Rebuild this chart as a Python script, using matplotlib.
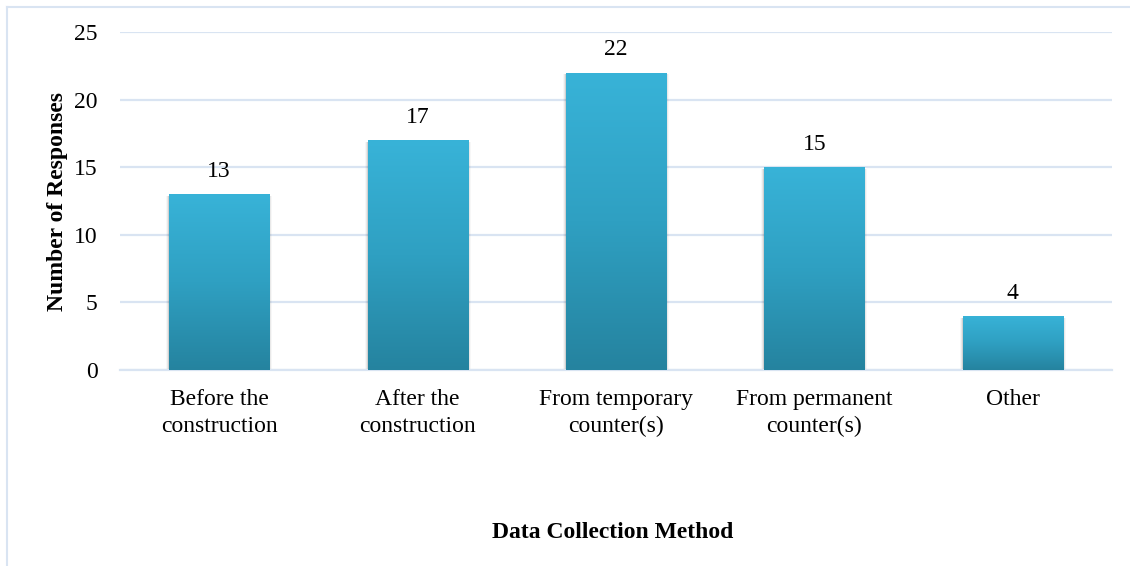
import numpy as np
import matplotlib
matplotlib.use("Agg")
import matplotlib.pyplot as plt
from matplotlib.colors import LinearSegmentedColormap
from matplotlib.lines import Line2D
from matplotlib.patches import Rectangle

categories = ["Before the\nconstruction", "After the\nconstruction",
              "From temporary\ncounter(s)", "From permanent\ncounter(s)", "Other"]
responses = [13, 17, 22, 15, 4]
y_ticks = [0, 5, 10, 15, 20, 25]

plt.rcParams["font.family"] = ["Liberation Serif", "DejaVu Serif"]

W, H = 1130, 566
fig = plt.figure(figsize=(W / 100, H / 100), dpi=100)
ax = fig.add_axes([120 / W, 1 - 370 / H, (1112 - 120) / W, (370 - 32) / H])

grid_c = "#D9E4F2"
fs = 17
x = np.arange(len(categories))
bar_w = 0.505
bars = ax.bar(x, responses, width=bar_w, color="none", zorder=3)

grad = LinearSegmentedColormap.from_list("bar", ["#25839F", "#2FA0C2", "#38B3D8"])
g = np.linspace(0, 1, 256).reshape(-1, 1)
for b, v in zip(bars, responses):
    x0 = b.get_x()
    # soft drop shadow
    for k, a in enumerate([0.10, 0.06, 0.03]):
        d = 0.012 * (k + 1)
        sh = Rectangle((x0 - d * 0.4, -0.12 - d * 6), bar_w + d * 0.8, v + d * 6,
                       facecolor="#000000", alpha=a, edgecolor="none", zorder=2)
        ax.add_patch(sh)
    im = ax.imshow(g, cmap=grad, aspect="auto", origin="lower",
                   extent=[x0, x0 + bar_w, 0, v], zorder=3)
    im.set_clip_path(b)
    ax.annotate(str(v), (b.get_x() + bar_w / 2, v), xytext=(0, 16.5),
                textcoords="offset points", ha="center", va="center",
                fontsize=fs, color="#000000", zorder=4)

ax.set_xlim(-0.5, len(categories) - 0.5)
ax.set_ylim(0, 25)
ax.set_yticks(y_ticks)
ax.set_yticklabels([str(t) for t in y_ticks], fontsize=fs)
ax.set_xticks(x)
ax.set_xticklabels(categories, fontsize=fs, linespacing=1.4)
ax.tick_params(axis="both", length=0)
ax.tick_params(axis="y", pad=16)
ax.tick_params(axis="x", pad=13.5)
ax.yaxis.grid(True, color=grid_c, linewidth=1.6, zorder=0)
ax.set_axisbelow(True)
for s in ["top", "right", "left"]:
    ax.spines[s].set_visible(False)
ax.spines["bottom"].set_color(grid_c)
ax.spines["bottom"].set_linewidth(1.6)

fig.text(57 / W, 1 - 201 / H, "Number of Responses", rotation=90, ha="center",
         va="center", fontsize=fs, fontweight="bold")
fig.text(613 / W, 1 - 533 / H, "Data Collection Method", ha="center",
         va="center", fontsize=fs, fontweight="bold")

# outer chart frame
fig.add_artist(Line2D([6.5 / W, 6.5 / W], [0, 1 - 7 / H], color=grid_c, linewidth=1.5))
fig.add_artist(Line2D([6.5 / W, 1], [1 - 7 / H, 1 - 7 / H], color=grid_c, linewidth=1.5))

fig.savefig("out.png", dpi=100, facecolor="white")
